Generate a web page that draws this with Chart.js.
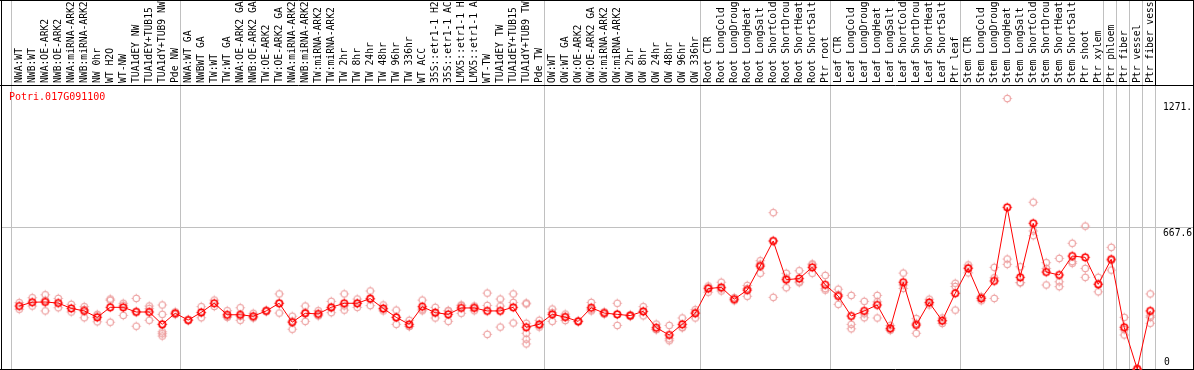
<!DOCTYPE html>
<html lang="en">
<head>
    <meta charset="UTF-8">
    <title>Potri.017G091100</title>
    <style>
        body { margin: 0; background: #fff; }
        canvas { display: block; }
    </style>
</head>
<body>
<canvas id="chart" width="1194" height="370"></canvas>

<script src="https://cdn.jsdelivr.net/npm/chart.js@4.4.1/dist/chart.umd.min.js"></script>
<script>
  const geneName = 'Potri.017G091100';

  // number of samples in each block (separated by grey lines)
  const groupSizes = [13, 28, 12, 10, 10, 11, 1, 1, 1, 1];

  const labels = [
    'NWA:WT', 'NWB:WT', 'NWA:OE-ARK2', 'NWB:OE-ARK2', 'NWA:miRNA-ARK2', 'NWB:miRNA-ARK2',
    'NW 0hr', 'WT H2O', 'WT-NW', 'TUA1dEY NW', 'TUA1dEY+TUB15 NW', 'TUA1dY+TUB9 NW', 'Pde NW',
    'NWA:WT GA', 'NWBWT GA', 'TW:WT', 'TW:WT GA', 'NWA:OE-ARK2 GA', 'NWB:OE-ARK2 GA',
    'TW:OE-ARK2', 'TW:OE-ARK2 GA', 'NWA:miRNA-ARK2', 'NWB:miRNA-ARK2', 'TW:miRNA-ARK2',
    'TW:miRNA-ARK2', 'TW 2hr', 'TW 8hr', 'TW 24hr', 'TW 48hr', 'TW 96hr', 'TW 336hr', 'WT ACC',
    '35S::etr1-1 H2O', '35S::etr1-1 ACC', 'LMX5::etr1-1 H2O', 'LMX5::etr1-1 ACC', 'WT-TW',
    'TUA1dEY TW', 'TUA1dEY+TUB15 TW', 'TUA1dY+TUB9 TW', 'Pde TW',
    'OW:WT', 'OW:WT GA', 'OW:OE-ARK2', 'OW:OE-ARK2 GA', 'OW:miRNA-ARK2', 'OW:miRNA-ARK2',
    'OW 2hr', 'OW 8hr', 'OW 24hr', 'OW 48hr', 'OW 96hr', 'OW 336hr',
    'Root CTR', 'Root LongCold', 'Root LongDrought', 'Root LongHeat', 'Root LongSalt',
    'Root ShortCold', 'Root ShortDrought', 'Root ShortHeat', 'Root ShortSalt', 'Ptr root',
    'Leaf CTR', 'Leaf LongCold', 'Leaf LongDrought', 'Leaf LongHeat', 'Leaf LongSalt',
    'Leaf ShortCold', 'Leaf ShortDrought', 'Leaf ShortHeat', 'Leaf ShortSalt', 'Ptr leaf',
    'Stem CTR', 'Stem LongCold', 'Stem LongDrought', 'Stem LongHeat', 'Stem LongSalt',
    'Stem ShortCold', 'Stem ShortDrought', 'Stem ShortHeat', 'Stem ShortSalt', 'Ptr shoot',
    'Ptr xylem', 'Ptr phloem', 'Ptr fiber', 'Ptr vessel', 'Ptr fiber vessel'
  ];

  const means = [
    296, 314, 315, 310, 285, 273, 243, 290, 290, 268, 268, 210, 262,
    230, 266, 309, 255, 255, 248, 273, 309, 220, 262, 259, 290, 309, 309, 331, 285,
    243, 210, 293, 265, 257, 287, 287, 273, 273, 290, 196, 210,
    257, 244, 224, 288, 263, 257, 251, 271, 194, 160, 210, 262,
    378, 384, 328, 371, 484, 602, 420, 425, 478, 396,
    343, 249, 273, 301, 191, 408, 207, 313, 227, 356,
    473, 332, 414, 760, 431, 685, 456, 442, 531, 525, 398,
    516, 196, 0, 273
  ];

  const replicates = [
    [312, 281], [335, 296], [349, 323, 273], [332, 288], [304, 268], [293, 280, 241],
    [257, 250, 222], [329, 323, 220], [309, 300, 252], [332, 271, 201], [296, 284, 229],
    [301, 257, 210, 175, 166, 155], [268, 256],
    [232, 228], [293, 264, 241], [324, 294], [274, 243, 248], [288, 229, 248], [262, 241, 241],
    [276, 270], [353, 309, 263], [248, 225, 187], [296, 266, 224], [274, 253, 250],
    [318, 287, 265], [353, 297, 277], [329, 308, 290], [367, 328, 298], [301, 281, 273],
    [277, 243, 210], [229, 201, 200], [324, 281, 274], [290, 265, 240], [274, 273, 224],
    [301, 298, 262], [296, 290, 274], [357, 299, 163], [329, 296, 197], [353, 313, 216],
    [310, 306, 215, 168, 140, 118], [229, 197, 204],
    [282, 224, 265], [258, 228, 246], [226, 222], [313, 273, 278], [268, 258], [309, 257, 205],
    [255, 247], [293, 270, 250], [211, 185, 186], [205, 142, 133], [240, 196, 194], [279, 267, 240],
    [390, 383, 361], [408, 377, 367], [335, 321], [393, 378, 342], [509, 493, 450],
    [735, 602, 337], [450, 428, 382], [462, 406, 410], [494, 490, 450], [440, 378, 371],
    [375, 350, 304], [346, 210, 189], [318, 260, 241], [346, 316, 240], [205, 187, 182],
    [451, 395, 379], [237, 215, 168], [328, 310, 301], [240, 227, 214], [403, 388, 277],
    [489, 478, 452], [340, 335, 321], [478, 429, 332], [1271.6, 517, 492], [481, 406, 406],
    [784, 649, 627], [500, 473, 395], [520, 410, 387], [591, 505, 497], [672, 473, 431],
    [431, 400, 363],
    [572, 510, 465], [243, 185, 160], [0, 0], [353, 250, 243, 215]
  ];

  const yTicks = [0, 667.6, 1271.6];
  const yTickLabels = ['0', '667.6', '1271.'];
  const yMax = 1335.2;
  const xOffset = 0.63;  // points sit a bit right of each column's left border

  const GRID = '#c0c0c0';
  const MONO = '"DejaVu Sans Mono", monospace';

  // small circle with four short ticks, like the original plot symbol
  function makeMarker(color, lw) {
    const c = document.createElement('canvas');
    c.width = 15; c.height = 15;
    const g = c.getContext('2d');
    g.strokeStyle = color;
    g.lineWidth = lw;
    g.beginPath();
    g.arc(7.5, 7.5, 3.2, 0, Math.PI * 2);
    g.stroke();
    g.lineWidth = 1;
    g.beginPath();
    g.moveTo(7.5, 2.8); g.lineTo(7.5, 3.8);
    g.moveTo(7.5, 11.2); g.lineTo(7.5, 12.2);
    g.moveTo(2.8, 7.5); g.lineTo(3.8, 7.5);
    g.moveTo(11.2, 7.5); g.lineTo(12.2, 7.5);
    g.stroke();
    return c;
  }

  const repPoints = [];
  replicates.forEach((vals, i) => vals.forEach(v => repPoints.push({x: i, y: v})));
  const meanPoints = means.map((v, i) => ({x: i, y: v}));

  const framePlugin = {
    id: 'frame',
    beforeDatasetsDraw(chart) {
      const {ctx, chartArea, scales} = chart;
      const xs = scales.x, ys = scales.y;
      ctx.save();
      ctx.lineWidth = 1;

      // block separators
      let b = 0;
      const bounds = [0];
      groupSizes.forEach(n => { b += n; bounds.push(b); });
      bounds.forEach((k, idx) => {
        const px = Math.round(xs.getPixelForValue(k - xOffset)) + 0.5;
        const last = idx === bounds.length - 1;
        ctx.strokeStyle = GRID;
        ctx.beginPath();
        ctx.moveTo(px, last ? chartArea.top : 0);
        ctx.lineTo(px, chartArea.bottom);
        ctx.stroke();
        if (last) {
          ctx.strokeStyle = '#000';
          ctx.beginPath();
          ctx.moveTo(px, 0);
          ctx.lineTo(px, chartArea.top);
          ctx.stroke();
        }
      });

      // horizontal grid line
      const gy = Math.round(ys.getPixelForValue(yTicks[1])) + 0.5;
      ctx.strokeStyle = GRID;
      ctx.beginPath();
      ctx.moveTo(1, gy);
      ctx.lineTo(chart.width - 1, gy);
      ctx.stroke();

      // outer frame + header rule
      ctx.strokeStyle = '#000';
      ctx.beginPath();
      ctx.moveTo(1.5, 0); ctx.lineTo(1.5, chartArea.bottom + 0.5);
      ctx.moveTo(chart.width - 0.5, 0); ctx.lineTo(chart.width - 0.5, chartArea.bottom + 0.5);
      ctx.moveTo(0, 0.5); ctx.lineTo(chart.width, 0.5);
      ctx.moveTo(0, chartArea.top + 0.5); ctx.lineTo(chart.width, chartArea.top + 0.5);
      ctx.moveTo(0, chartArea.bottom + 0.5); ctx.lineTo(chart.width, chartArea.bottom + 0.5);
      ctx.stroke();
      ctx.restore();
    },
    afterDraw(chart) {
      const {ctx, chartArea, scales} = chart;
      const xs = scales.x, ys = scales.y;
      ctx.save();

      // rotated sample names
      ctx.font = '9.7px ' + MONO;
      ctx.fillStyle = '#000';
      ctx.textAlign = 'left';
      ctx.textBaseline = 'alphabetic';
      labels.forEach((t, i) => {
        ctx.save();
        ctx.translate(xs.getPixelForValue(i) + 3, chartArea.top - 2);
        ctx.rotate(-Math.PI / 2);
        ctx.fillText(t, 0, 0);
        ctx.restore();
      });

      // gene id
      ctx.font = '10px ' + MONO;
      ctx.fillStyle = '#ff0000';
      ctx.fillText(geneName, 9, chartArea.top + 15);

      // right-hand value labels
      ctx.fillStyle = '#000';
      ctx.font = '9.7px ' + MONO;
      yTicks.forEach((v, i) => {
        const py = ys.getPixelForValue(v);
        if (v === 0) {
          ctx.textBaseline = 'bottom';
          ctx.fillText(yTickLabels[i], chartArea.right + 9, py - 2);
        } else {
          ctx.textBaseline = 'top';
          ctx.fillText(yTickLabels[i], chartArea.right + 8, py + (i === 2 ? 4 : 1.5));
        }
      });
      ctx.restore();
    }
  };

  new Chart(document.getElementById('chart'), {
    type: 'scatter',
    data: {
      datasets: [
        {
          data: meanPoints,
          showLine: true,
          borderColor: '#ff0000',
          borderWidth: 1,
          pointStyle: makeMarker('#ff0000', 1.6),
          clip: false,
          order: 0
        },
        {
          data: repPoints,
          showLine: false,
          pointStyle: makeMarker('#ec9a9a', 1.1),
          clip: false,
          order: 1
        }
      ]
    },
    options: {
      responsive: false,
      animation: false,
      devicePixelRatio: 1,
      events: [],
      layout: { autoPadding: false, padding: { left: 11, right: 39, top: 85, bottom: 1 } },
      scales: {
        x: { type: 'linear', display: false, min: -xOffset, max: labels.length - xOffset },
        y: { display: false, min: 0, max: yMax }
      },
      plugins: { legend: { display: false }, tooltip: { enabled: false } }
    },
    plugins: [framePlugin]
  });
</script>
</body>
</html>
